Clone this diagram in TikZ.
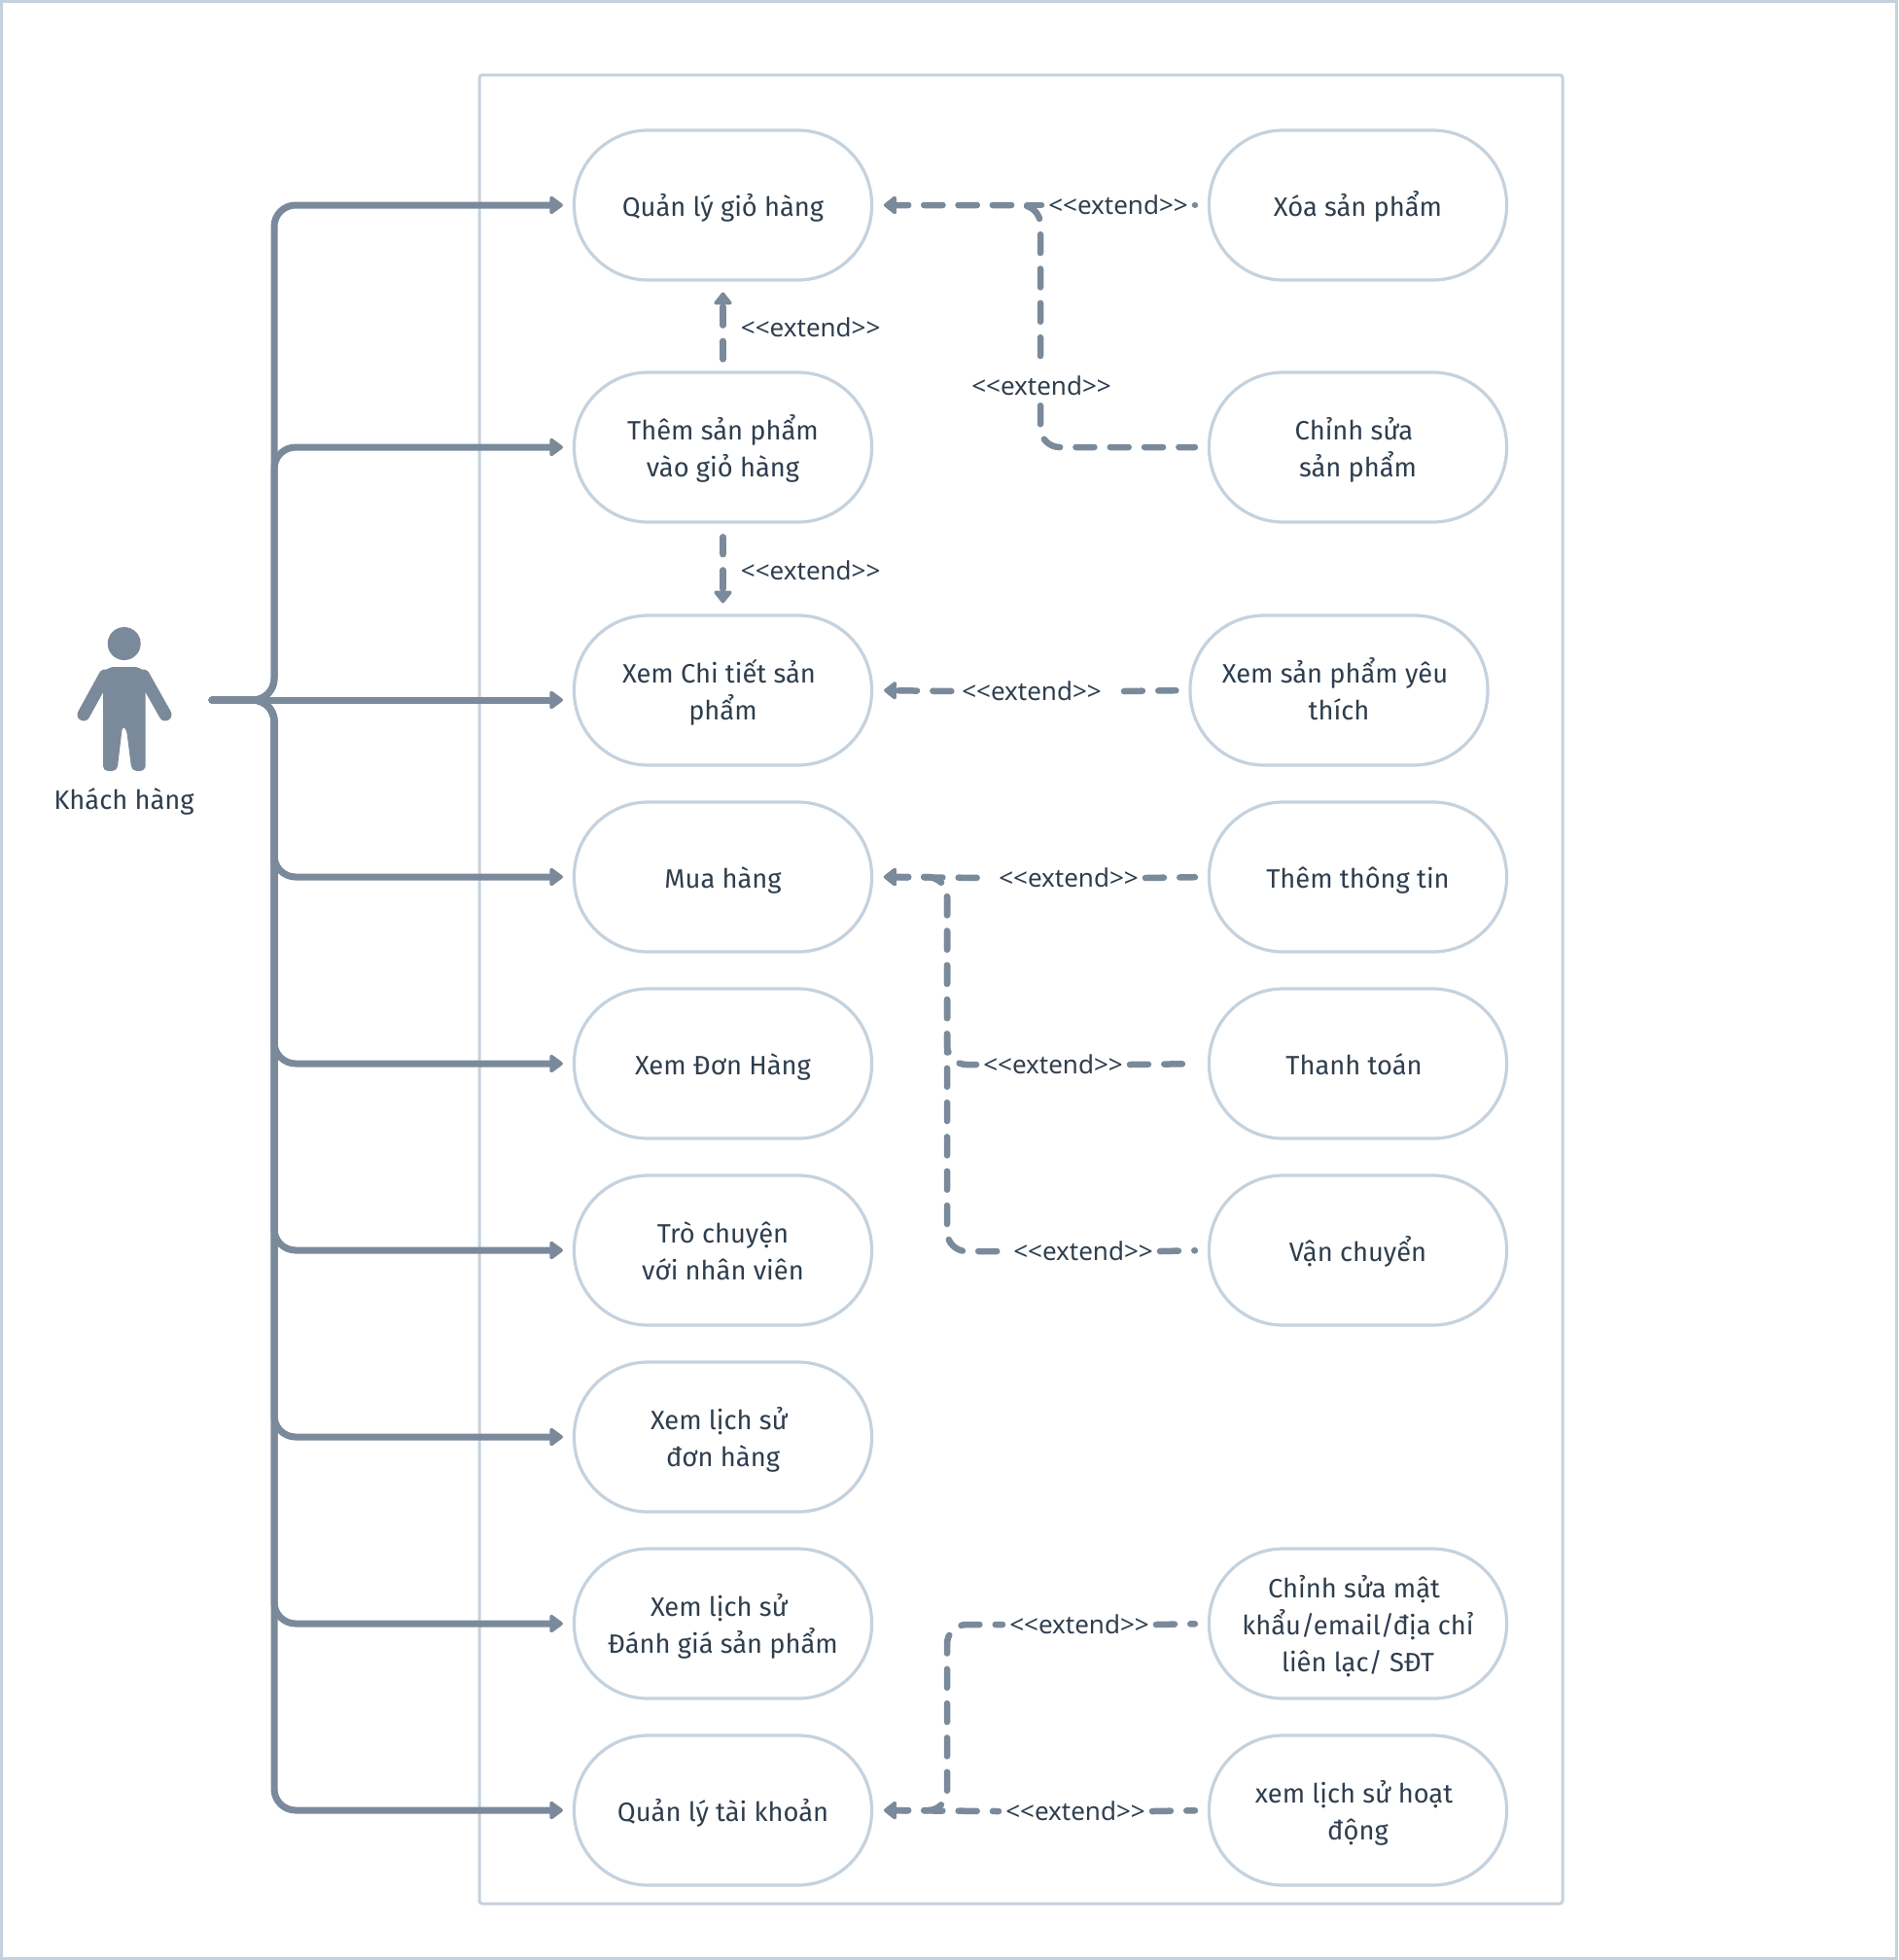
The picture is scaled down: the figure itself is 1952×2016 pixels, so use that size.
\documentclass[tikz,border=0pt]{standalone}
\usepackage{fontspec}
\usetikzlibrary{arrows.meta,calc}
\setmainfont{Fira Sans}
\newfontfamily\lblfont{Noto Sans}
\definecolor{linec}{HTML}{7A8A9A}
\definecolor{borderc}{HTML}{C5D2DE}
\definecolor{textc}{HTML}{2F3E4E}
\newcommand{\tsp}{\hspace*{8pt}}
\newcommand{\firstrule}{\rule{0pt}{34.6pt}}
\newcommand{\lastrule}{\rule[-11.4pt]{0pt}{11.4pt}}
\newcommand{\mlines}[1]{\begin{tabular}{@{}c@{}}\firstrule #1\end{tabular}}
\tikzset{
  x=1pt,y=-1pt,
  usecase/.style={draw=borderc,line width=3.2pt,rounded corners=76pt,minimum width=306pt,minimum height=154pt,inner sep=0pt,align=center,text=textc,font=\fontsize{27.3}{38}\selectfont,execute at begin node=\firstrule,execute at end node=\lastrule},
  extlabel/.style={inner xsep=7pt,inner ysep=4pt,text=textc,font=\lblfont\fontsize{26}{30}\selectfont},
  flow/.style={draw=linec,line width=7pt,line cap=round,line join=round,rounded corners=22pt,-{Triangle[length=15pt,width=21pt,round]},shorten >=10pt},
  extbase/.style={draw=linec,line width=6.5pt,line cap=round,line join=round,rounded corners=20pt,dash pattern=on 19pt off 16.3pt},
  extto/.style={extbase,{Triangle[length=14pt,width=21pt,round]}-,dash phase=6pt,shorten <=11pt},
  extfrom/.style={extbase,shorten >=13pt},
  frameline/.style={draw=borderc,line width=3pt},
}
\begin{document}
\begin{tikzpicture}
\useasboundingbox (0,0) rectangle (1952,2016);
\fill[white] (0,0) rectangle (1952,2016);
\draw[frameline] (1.5,1.5) rectangle (1950.5,2014.5);
\draw[frameline,rounded corners=3pt] (493,77) rectangle (1607,1958);
% actor
\fill[linec] (127.7,662) circle (17);
\fill[linec,rounded corners=5pt] (106,730) -- (106,692) -- (112,686) -- (143,686) -- (150,692) -- (149.5,730) -- (149.5,786) -- (149.5,793) -- (135.5,793) -- (130,750) -- (126,746) -- (120.5,793) -- (106,793) -- cycle;
\draw[linec,line width=13pt,line cap=round] (108,695) -- (86,735);
\draw[linec,line width=13pt,line cap=round] (147.5,695) -- (170,735);
\node[text=textc,font=\fontsize{27.3}{38}\selectfont,inner sep=0pt] (actor) at (127.5,824) {Khách hàng};
\coordinate (actorout) at (218,720);
\coordinate (trunk) at (282,0);
% left column
\node[usecase] (n1) at (743.5,211) {Quản lý giỏ hàng};
\node[usecase] (n2) at (743.5,460) {\mlines{Thêm sản phẩm\\vào giỏ hàng}};
\node[usecase] (n3) at (743.5,710) {\mlines{Xem Chi tiết sản\tsp\\phẩm}};
\node[usecase] (n4) at (743.5,902) {Mua hàng};
\node[usecase] (n5) at (743.5,1094) {Xem Đơn Hàng};
\node[usecase] (n6) at (743.5,1286) {\mlines{Trò chuyện\\với nhân viên}};
\node[usecase] (n7) at (743.5,1478) {\mlines{Xem lịch sử\tsp\\đơn hàng}};
\node[usecase] (n8) at (743.5,1670) {\mlines{Xem lịch sử\tsp\\Đánh giá sản phẩm}};
\node[usecase] (n9) at (743.5,1862) {Quản lý tài khoản};
% right column
\node[usecase] (r1) at (1396.5,211) {Xóa sản phẩm};
\node[usecase] (r2) at (1396.5,460) {\mlines{Chỉnh sửa\tsp\\sản phẩm}};
\node[usecase] (r3) at (1377,710) {\mlines{Xem sản phẩm yêu\tsp\\thích}};
\node[usecase] (r4) at (1396.5,902) {Thêm thông tin};
\node[usecase] (r5) at (1396.5,1094) {Thanh toán\tsp};
\node[usecase] (r6) at (1396.5,1286) {Vận chuyển};
\node[usecase] (r7) at (1396.5,1670) {\mlines{Chỉnh sửa mật\tsp\\khẩu/email/địa chỉ\\liên lạc/ SĐT}};
\node[usecase] (r8) at (1396.5,1862) {\mlines{xem lịch sử hoạt\tsp\\động}};
% actor connectors
\foreach \t in {n1,n2,n4,n5,n6,n7,n8,n9}{
  \draw[flow] (actorout) -| (trunk |- \t.west) -- (\t.west);
}
\draw[flow] (actorout) -- (n3.west |- actorout);
% labels
\node[extlabel] (l1) at (1150,211) {<{}<extend>{}>};
\node[extlabel,inner ysep=10pt] (l2) at (1071,397) {<{}<extend>{}>};
\node[extlabel] (l3) at (1061,711) {<{}<extend>{}>};
\node[extlabel] (l4) at (1099,903) {<{}<extend>{}>};
\node[extlabel] (l5) at (1083,1095) {<{}<extend>{}>};
\node[extlabel] (l6) at (1114,1287) {<{}<extend>{}>};
\node[extlabel] (l7) at (1110,1671) {<{}<extend>{}>};
\node[extlabel] (l8) at (1106,1863) {<{}<extend>{}>};
\node[extlabel] (l9) at (833.7,336.5) {<{}<extend>{}>};
\node[extlabel] (l10) at (833.7,586.5) {<{}<extend>{}>};
\coordinate (bus1) at (1070,0);
\coordinate (bus2) at (974,0);
\coordinate (l3out) at ($(l3.east)+(16,0)$);
% extend connectors
\draw[extto] (n1.east) -- (l1.west);
\draw[extfrom] (l1.east) -- (r1.west);
\draw[extto] (n1.east) -| (bus1 |- l2.north);
\draw[extfrom] (bus1 |- l2.south) |- (r2.west);
\draw[extto,dash phase=32.3pt] (n3.east) -- (l3.west);
\draw[extfrom] (l3out) -- (r3.west);
\draw[extto] (n4.east) -- (l4.west);
\draw[extfrom] (l4.east) -- (r4.west);
\draw[extto] (n4.east) -| (bus2 |- l5.west) -- (l5.west);
\draw[extfrom,shorten >=26pt] (l5.east) -- (r5.west);
\draw[extto] (n4.east) -| (bus2 |- l6.west) -- (l6.west);
\draw[extfrom] (l6.east) -- (r6.west);
\draw[extto] (n9.east) -| (bus2 |- l7.west) -- (l7.west);
\draw[extfrom] (l7.east) -- (r7.west);
\draw[extto] (n9.east) -- (l8.west);
\draw[extfrom] (l8.east) -- (r8.west);
\draw[extbase,{Triangle[length=14pt,width=21pt,round]}-,dash phase=32.3pt,shorten <=11pt,shorten >=12pt] (n1.south) -- (n2.north);
\draw[extbase,{Triangle[length=14pt,width=21pt,round]}-,dash phase=32.3pt,shorten <=11pt,shorten >=13.7pt] (n3.north) -- (n2.south);
\end{tikzpicture}
\end{document}
